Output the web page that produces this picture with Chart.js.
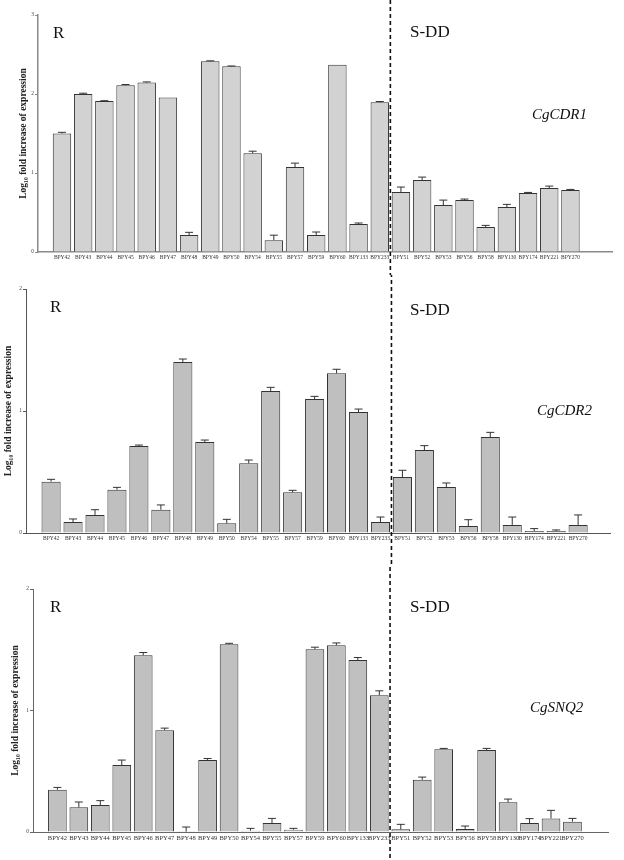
<!DOCTYPE html>
<html>
<head>
<meta charset="utf-8">
<script src="https://cdn.jsdelivr.net/npm/chart.js@4"></script>
<style>
    body { margin: 0; background: #fff; }
    .panel { position: relative; width: 624px; }
</style>
</head>
<body>
<div class="panel" style="height: 275px;"><canvas id="cdr1Chart"></canvas></div>
<div class="panel" style="height: 290px;"><canvas id="cdr2Chart"></canvas></div>
<div class="panel" style="height: 295px;"><canvas id="snq2Chart"></canvas></div>
<script>
// Strains: first 16 are resistant (R), the rest S-DD
const strains = ['BPY42', 'BPY43', 'BPY44', 'BPY45', 'BPY46', 'BPY47', 'BPY48', 'BPY49', 'BPY50',
    'BPY54', 'BPY55', 'BPY57', 'BPY59', 'BPY60', 'BPY133', 'BPY233',
    'BPY51', 'BPY52', 'BPY53', 'BPY56', 'BPY58', 'BPY130', 'BPY174', 'BPY221', 'BPY270'];
const groupLabels = ['R', 'S-DD'];
const yTicks3 = [0, 1, 2, 3];
const yTicks2 = [0, 1, 2];

// log10 fold increase, and upper error (amount above the bar)
const cdr1Values = [1.50, 2.00, 1.91, 2.11, 2.145, 1.955, 0.215, 2.415, 2.35, 1.25, 0.15, 1.075, 0.215,
    2.37, 0.354, 1.896, 0.758, 0.91, 0.594, 0.657, 0.316, 0.569, 0.746, 0.809, 0.784];
const cdr1Errors = [0.015, 0.01, 0.005, 0.01, 0.008, 0, 0.034, 0.005, 0.005, 0.026, 0.063, 0.05, 0.038,
    0, 0.013, 0.009, 0.064, 0.038, 0.063, 0.013, 0.021, 0.034, 0.008, 0.025, 0.008];

const cdr2Values = [0.421, 0.09, 0.148, 0.355, 0.713, 0.191, 1.402, 0.746, 0.079, 0.571, 1.164, 0.333, 1.098,
    1.309, 0.992, 0.09, 0.459, 0.68, 0.377, 0.057, 0.787, 0.066, 0.016, 0.016, 0.066];
const cdr2Errors = [0.019, 0.025, 0.043, 0.019, 0.008, 0.039, 0.024, 0.016, 0.033, 0.027, 0.03, 0.017, 0.022,
    0.033, 0.024, 0.041, 0.055, 0.036, 0.033, 0.052, 0.038, 0.065, 0.02, 0.009, 0.082];

const snq2Values = [0.348, 0.203, 0.222, 0.551, 1.455, 0.838, 0.003, 0.592, 1.545, 0.011, 0.074, 0.019, 1.504,
    1.537, 1.416, 1.126, 0.022, 0.43, 0.682, 0.025, 0.674, 0.244, 0.074, 0.112, 0.085];
const snq2Errors = [0.019, 0.044, 0.036, 0.041, 0.022, 0.017, 0.038, 0.013, 0.008, 0.019, 0.038, 0.011, 0.017,
    0.019, 0.02, 0.036, 0.041, 0.022, 0.006, 0.024, 0.014, 0.027, 0.036, 0.066, 0.027];

const SERIF = '"Liberation Serif", "DejaVu Serif", serif';
const R_COUNT = 16;

// upward T error bars
const errorBarPlugin = (errors) => ({
    id: 'errorBars',
    afterDatasetsDraw(chart) {
        const ctx = chart.ctx;
        const yScale = chart.scales.y;
        const meta = chart.getDatasetMeta(0);
        ctx.save();
        ctx.strokeStyle = '#333';
        ctx.lineWidth = 1;
        meta.data.forEach((bar, i) => {
            const value = chart.data.datasets[0].data[i].y;
            if (!errors[i]) return;
            const top = yScale.getPixelForValue(value + errors[i]);
            ctx.beginPath();
            ctx.moveTo(bar.x, bar.y);
            ctx.lineTo(bar.x, top);
            ctx.moveTo(bar.x - 4, top);
            ctx.lineTo(bar.x + 4, top);
            ctx.stroke();
        });
        ctx.restore();
    }
});

// group divider, group names and gene name
const annotationPlugin = (gene, pos, pageTop) => ({
    id: 'annotations',
    afterDraw(chart) {
        const ctx = chart.ctx;
        const x = chart.scales.x.getPixelForValue(R_COUNT - 0.5);
        ctx.save();
        ctx.strokeStyle = '#111';
        ctx.lineWidth = 1.6;
        ctx.setLineDash([4, 3]);
        // keep the dash pattern continuous across the stacked panels
        ctx.lineDashOffset = pageTop;
        ctx.beginPath();
        ctx.moveTo(x, 0);
        ctx.lineTo(x, chart.height);
        ctx.stroke();
        ctx.setLineDash([]);

        ctx.fillStyle = '#111';
        ctx.textBaseline = 'alphabetic';
        ctx.font = '17px ' + SERIF;
        ctx.fillText(groupLabels[0], pos.r[0], pos.r[1]);
        ctx.fillText(groupLabels[1], pos.sdd[0], pos.sdd[1]);
        ctx.font = 'italic 15px ' + SERIF;
        ctx.fillText(gene, pos.gene[0], pos.gene[1]);
        ctx.restore();
    }
});

function makeChart(id, values, errors, cfg) {
    const ctx = document.getElementById(id);
    return new Chart(ctx, {
        type: 'bar',
        data: {
            datasets: [{
                data: values.map((v, i) => ({ x: i, y: v })),
                backgroundColor: cfg.barColor,
                borderColor: '#333',
                borderWidth: 1,
                categoryPercentage: 0.87,
                barPercentage: 1
            }]
        },
        options: {
            responsive: true,
            maintainAspectRatio: false,
            animation: false,
            events: [],
            layout: { padding: { top: cfg.top, right: cfg.right, left: 0, bottom: 0 } },
            plugins: { legend: { display: false }, tooltip: { enabled: false } },
            scales: {
                x: {
                    type: 'linear',
                    min: cfg.xMin,
                    max: cfg.xMax,
                    grid: { display: false, drawTicks: false },
                    border: { display: true, color: cfg.axisColor, width: cfg.axisWidth },
                    afterBuildTicks: (scale) => {
                        scale.ticks = strains.map((_, i) => ({ value: i }));
                    },
                    afterFit: (scale) => { scale.height = cfg.xHeight; },
                    ticks: {
                        autoSkip: false,
                        maxRotation: 0,
                        minRotation: 0,
                        padding: 2,
                        color: '#333',
                        font: { family: SERIF, size: cfg.xFont },
                        callback: (value) => strains[value]
                    }
                },
                y: {
                    min: 0,
                    max: cfg.yTicks[cfg.yTicks.length - 1],
                    grid: { drawOnChartArea: false, drawTicks: true, tickLength: 3, color: cfg.axisColor },
                    border: { display: true, color: cfg.axisColor, width: cfg.axisWidth },
                    afterBuildTicks: (scale) => {
                        scale.ticks = cfg.yTicks.map(v => ({ value: v }));
                    },
                    afterFit: (scale) => { scale.width = cfg.yWidth; },
                    ticks: {
                        padding: 1,
                        color: '#444',
                        font: { family: SERIF, size: 5.5 }
                    },
                    title: {
                        display: true,
                        text: 'Log\u2081\u2080 fold increase of expression',
                        color: '#222',
                        font: { family: SERIF, size: 9.5, weight: 'bold' },
                        padding: { top: cfg.titlePad, bottom: 0 }
                    }
                }
            }
        },
        plugins: [errorBarPlugin(errors), annotationPlugin(cfg.gene, cfg.text, cfg.pageTop)]
    });
}

makeChart('cdr1Chart', cdr1Values, cdr1Errors, {
    gene: 'CgCDR1', yTicks: yTicks3, barColor: '#d2d2d2', axisColor: '#8a8a8a', axisWidth: 1.5, pageTop: 0,
    top: 15, right: 12, yWidth: 38, xHeight: 23, xMin: -0.59, xMax: 25.42, xFont: 5.5, titlePad: 18,
    text: { r: [53, 38], sdd: [410, 37], gene: [532, 119] }
});

makeChart('cdr2Chart', cdr2Values, cdr2Errors, {
    gene: 'CgCDR2', yTicks: yTicks2, barColor: '#bfbfbf', axisColor: '#555', axisWidth: 1, pageTop: 275,
    top: 14, right: 14, yWidth: 26, xHeight: 32, xMin: -0.61, xMax: 24.92, xFont: 5.5, titlePad: 3,
    text: { r: [50, 37], sdd: [410, 40], gene: [537, 140] }
});

makeChart('snq2Chart', snq2Values, snq2Errors, {
    gene: 'CgSNQ2', yTicks: yTicks2, barColor: '#c0c0c0', axisColor: '#666', axisWidth: 1, pageTop: 565,
    top: 24, right: 16, yWidth: 33, xHeight: 28, xMin: -0.60, xMax: 25.12, xFont: 6.5, titlePad: 10,
    text: { r: [50, 47], sdd: [410, 47], gene: [530, 147] }
});
</script>
</body>
</html>
